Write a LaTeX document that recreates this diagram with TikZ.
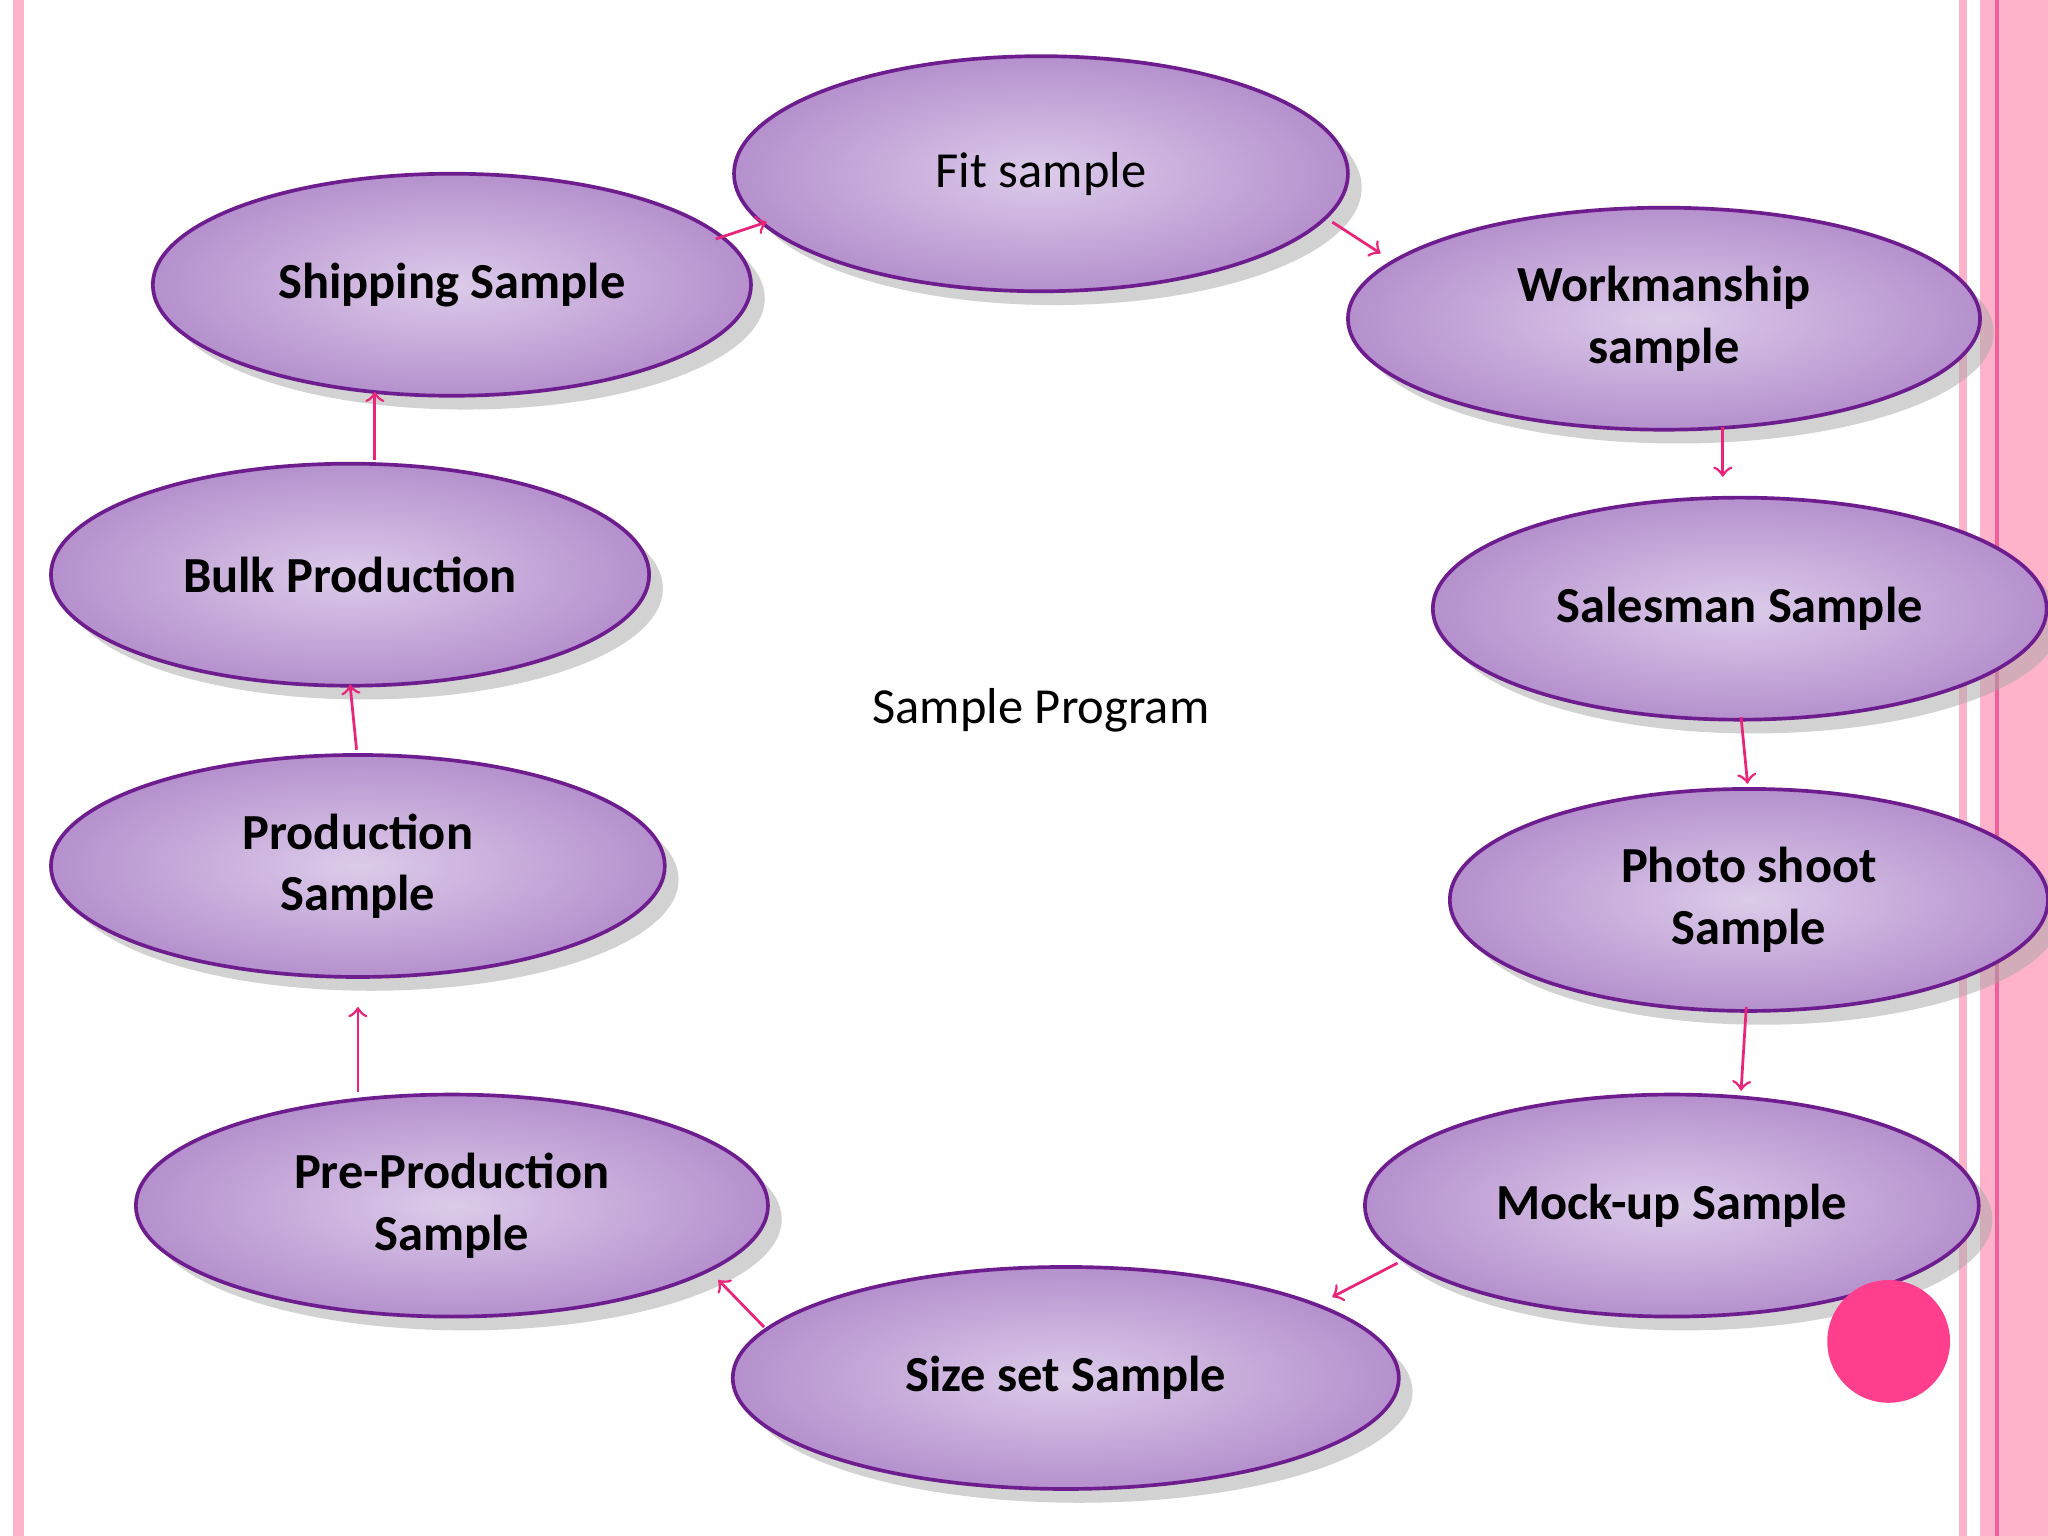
\documentclass[tikz,border=0pt]{standalone}
\usepackage{fontspec}
\setmainfont{Carlito}
\usetikzlibrary{shapes.geometric}
\usetikzlibrary{shadows}
\usetikzlibrary{arrows}
\definecolor{lilac}{HTML}{DCCBEA}
\definecolor{lilacdark}{HTML}{B590CD}
\definecolor{plum}{HTML}{6E1D8E}
\definecolor{rosy}{HTML}{FFB3CB}
\definecolor{rosydark}{HTML}{F0609A}
\definecolor{hotpink}{HTML}{FF3F8D}
\definecolor{arrowpink}{HTML}{E8257A}
\tikzstyle{stage} = [ellipse, draw=plum, thick, inner color=lilac, outer color=lilacdark,
  drop shadow={shadow xshift=3pt, shadow yshift=-3pt, fill=black!35, opacity=0.5},
  align=center, font=\fontsize{11}{13.4}\selectfont\bfseries, inner sep=0, outer sep=0]
\tikzstyle{link} = [->, >=to, arrowpink, semithick]

\begin{document}
\begin{tikzpicture}[x=0.1mm, y=-0.1mm]
	\useasboundingbox (0,0) rectangle (1568,1176);
	% side stripes
	\fill[rosy] (10,0) rectangle (18,1176);
	\fill[rosy] (1500,0) rectangle (1506,1176);
	\fill[rosy] (1516,0) rectangle (1568,1176);
	\draw[rosydark, thick] (1529,0) -- (1529,1176);

	\node (fit)   at(797,133)  [stage, minimum width=47mm, minimum height=18mm, font=\fontsize{11}{13.4}\selectfont] {Fit sample};
	\node (ship)  at(346,218)  [stage, minimum width=45.8mm, minimum height=17mm] {Shipping Sample};
	\node (work)  at(1274,244) [stage, minimum width=48.4mm, minimum height=17mm] {Workmanship\\sample};
	\node (bulk)  at(268,440)  [stage, minimum width=45.8mm, minimum height=17mm] {Bulk Production};
	\node (sales) at(1332,466) [stage, minimum width=47mm, minimum height=17mm] {Salesman Sample};
	\node (prod)  at(274,663)  [stage, minimum width=47mm, minimum height=17mm] {Production\\Sample};
	\node (photo) at(1339,689) [stage, minimum width=45.8mm, minimum height=17mm] {Photo shoot\\Sample};
	\node (pre)   at(346,923)  [stage, minimum width=48.4mm, minimum height=17mm] {Pre-Production\\Sample};
	\node (mock)  at(1280,923) [stage, minimum width=47mm, minimum height=17mm] {Mock-up Sample};
	\node (size)  at(816,1055) [stage, minimum width=51mm, minimum height=17mm] {Size set Sample};

	\node (title) at(797,544) [font=\fontsize{11}{13}\selectfont] {Sample Program};
	\fill[hotpink] (1446,1027) circle (47);

	% arrow ends
	\coordinate (a1) at(548,183);  \coordinate (b1) at(587,170);
	\coordinate (a2) at(1020,170); \coordinate (b2) at(1057,194);
	\coordinate (a3) at(1319,327); \coordinate (b3) at(1319,365);
	\coordinate (a4) at(1333,549); \coordinate (b4) at(1338,600);
	\coordinate (a5) at(1337,771); \coordinate (b5) at(1333,835);
	\coordinate (a6) at(1070,967); \coordinate (b6) at(1020,993);
	\coordinate (a7) at(585,1016); \coordinate (b7) at(550,980);
	\coordinate (a8) at(274,836);  \coordinate (b8) at(274,771);
	\coordinate (a9) at(273,574);  \coordinate (b9) at(268,524);
	\coordinate (a10) at(287,352); \coordinate (b10) at(287,300);

	\foreach \i in {1,...,10}
		\draw[link] (a\i) -- (b\i);
\end{tikzpicture}
\end{document}
